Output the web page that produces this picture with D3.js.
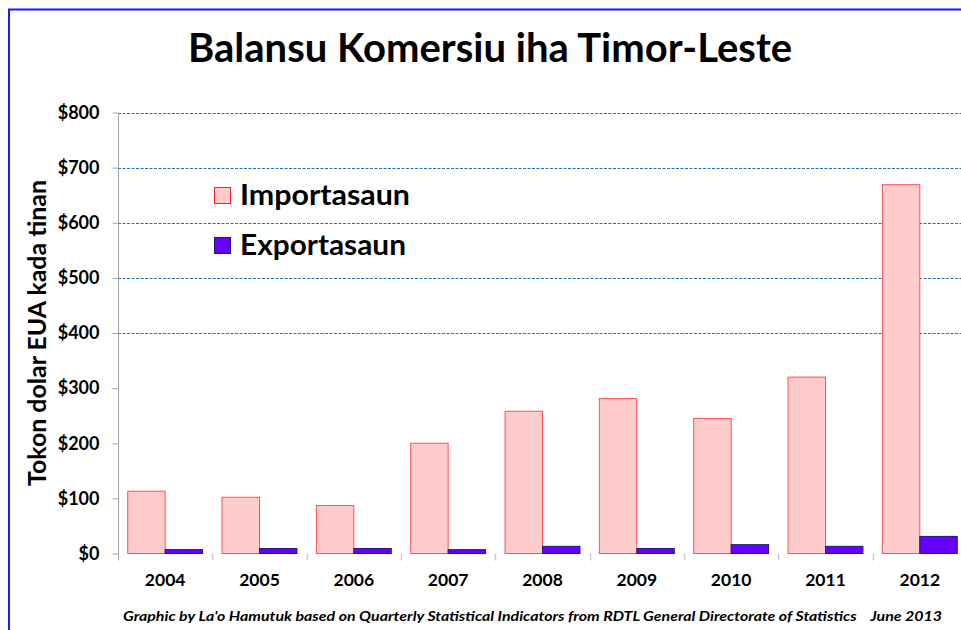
<!DOCTYPE html>
<html><head><meta charset="utf-8">
<script src="https://cdn.jsdelivr.net/npm/d3@7"></script>
<style>html,body{margin:0;padding:0;background:#fff;overflow:hidden}</style>
</head><body>
<svg id="c" width="961" height="630"></svg>
<script>
const years = ["2004","2005","2006","2007","2008","2009","2010","2011","2012"];
const imports = [113, 102, 87, 200, 258, 281, 245, 320, 669];
const exports_ = [7, 9, 9, 7, 13, 9, 16, 13, 31];
const seriesNames = ["Importasaun", "Exportasaun"];
const yTicks = [0, 100, 200, 300, 400, 500, 600, 700, 800];
const gridValues = [400, 500, 600, 700, 800];

(function () {
const svg = d3.select("#c");
const font = "Lato, 'Open Sans', sans-serif";

// outer border
svg.append("rect").attr("x", 9).attr("y", 9.5).attr("width", 1000).attr("height", 700)
  .attr("fill", "none").attr("stroke", "#1a1aff").attr("stroke-width", 2);

const pLeft = 118, pRight = 967, pTop = 112.5, pBottom = 553.5;
const x = d3.scaleBand().domain(years).range([pLeft, pRight]).padding(0);
const xs = d3.scaleBand().domain(seriesNames).range([0, x.bandwidth()]).paddingInner(0).paddingOuter(0.26);
const y = d3.scaleLinear().domain([0, 800]).range([pBottom, pTop]);

// gridlines
svg.append("g").selectAll("line").data(gridValues).join("line")
  .attr("x1", pLeft).attr("x2", pRight)
  .attr("y1", d => Math.round(y(d)) + 0.5).attr("y2", d => Math.round(y(d)) + 0.5)
  .attr("stroke", "#1f6fc0").attr("stroke-width", 1).attr("stroke-dasharray", "3,1.5");

// y axis
const yAxis = d3.axisLeft(y).tickValues(yTicks).tickSize(6).tickPadding(13).tickFormat(d => "$" + d);
const gy = svg.append("g").attr("transform", `translate(${pLeft + 0.5},0)`).call(yAxis);
gy.select(".domain").attr("stroke", "#a6a6a6").attr("d", `M0,${pTop}V${pBottom + 7}`);
gy.selectAll(".tick line").attr("stroke", "#a6a6a6");
gy.selectAll(".tick text").attr("font-family", font).attr("font-weight", "bold")
  .attr("font-size", 18).attr("fill", "#000");

// x axis ticks at band boundaries
svg.append("g").selectAll("line").data(years.slice(1)).join("line")
  .attr("x1", d => Math.round(x(d)) + 0.5).attr("x2", d => Math.round(x(d)) + 0.5)
  .attr("y1", pBottom).attr("y2", pBottom + 7).attr("stroke", "#c8c8c8").attr("stroke-width", 1.5);

svg.append("g").selectAll("text").data(years).join("text")
  .attr("x", d => x(d) + x.bandwidth() / 2).attr("y", 586)
  .attr("text-anchor", "middle").attr("font-family", font).attr("font-weight", "bold")
  .attr("font-size", 17.5).text(d => d);

// bars
const g = svg.append("g");
years.forEach((yr, i) => {
  g.append("rect").attr("x", x(yr) + xs("Importasaun")).attr("y", y(imports[i]))
    .attr("width", xs.bandwidth()).attr("height", y(0) - y(imports[i]))
    .attr("fill", "#ffcccc").attr("stroke", "#ff5050").attr("stroke-width", 1);
  g.append("rect").attr("x", x(yr) + xs("Exportasaun")).attr("y", y(exports_[i]))
    .attr("width", xs.bandwidth()).attr("height", y(0) - y(exports_[i]))
    .attr("fill", "#6600ff").attr("stroke", "#1a1a7a").attr("stroke-width", 1);
});

// title
svg.append("text").attr("x", 490).attr("y", 62).attr("text-anchor", "middle")
  .attr("font-family", font).attr("font-weight", "bold").attr("font-size", 40)
  .attr("textLength", 604).attr("lengthAdjust", "spacingAndGlyphs")
  .text("Balansu Komersiu iha Timor-Leste");

// y title
svg.append("text").attr("transform", "translate(46,333) rotate(-90)")
  .attr("text-anchor", "middle").attr("font-family", font).attr("font-weight", "bold")
  .attr("font-size", 24).attr("textLength", 306).attr("lengthAdjust", "spacingAndGlyphs")
  .text("Tokon dolar EUA kada tinan");

// legend
const leg = [{n: seriesNames[0], f: "#ffcccc", s: "#ff2020", y: 187, w: 170},
             {n: seriesNames[1], f: "#6600ff", s: "#1a1a7a", y: 237, w: 166}];
const lg = svg.append("g").selectAll("g").data(leg).join("g");
lg.append("rect").attr("x", 214.5).attr("y", d => d.y + 0.5).attr("width", 16).attr("height", 16)
  .attr("fill", d => d.f).attr("stroke", d => d.s);
lg.append("text").attr("x", 240).attr("y", d => d.y + 18).attr("font-family", font)
  .attr("font-weight", "bold").attr("font-size", 28)
  .attr("textLength", d => d.w).attr("lengthAdjust", "spacingAndGlyphs").text(d => d.n);

// footer
svg.append("text").attr("x", 123).attr("y", 621).attr("font-family", font)
  .attr("font-style", "italic").attr("font-weight", "bold").attr("font-size", 13)
  .attr("textLength", 819).attr("lengthAdjust", "spacingAndGlyphs")
  .attr("xml:space", "preserve")
  .text("Graphic by La'o Hamutuk based on Quarterly Statistical Indicators from RDTL General Directorate of Statistics    June 2013");
})();
</script>
</body></html>
